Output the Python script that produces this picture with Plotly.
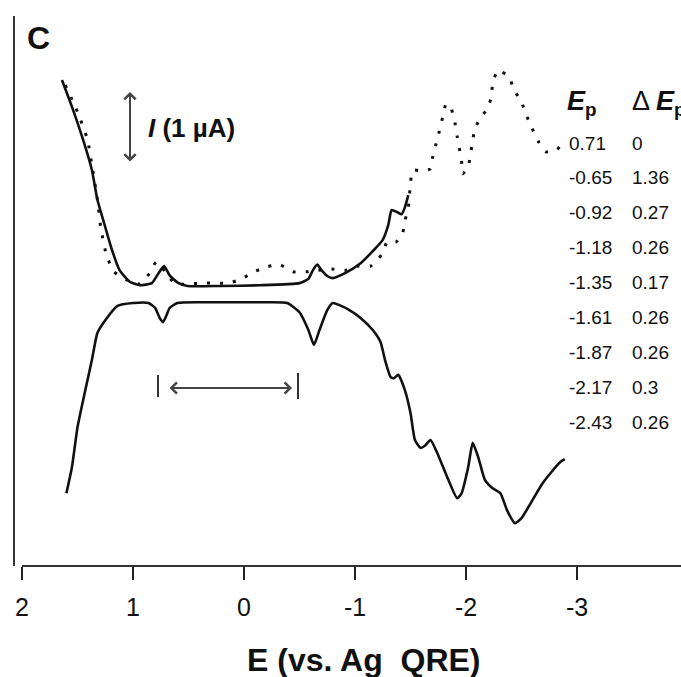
import plotly.graph_objects as go

# ---- data (E in V vs Ag QRE, I in µA, arbitrary offset) ----
E_dot = [1.61, 1.50, 1.41, 1.37, 1.32, 1.29, 1.24, 1.17, 1.05, 0.94,
         0.85, 0.79, 0.71, 0.62, 0.49, 0.37, 0.24, 0.14, 0.02, -0.09,
         -0.21, -0.32, -0.44, -0.56, -0.67, -0.79, -0.91, -1.03, -1.14, -1.24,
         -1.29, -1.37, -1.43, -1.45, -1.48, -1.50, -1.52, -1.61, -1.68, -1.70,
         -1.73, -1.76, -1.79, -1.82, -1.86, -1.87, -1.90, -1.92, -1.94, -1.96,
         -1.97, -2.02, -2.04, -2.06, -2.08, -2.14, -2.20, -2.23, -2.24, -2.29,
         -2.39, -2.43, -2.50, -2.54, -2.59, -2.65, -2.72, -2.82, -2.87]
I_dot = [6.76, 6.38, 5.99, 5.63, 5.14, 4.75, 4.37, 4.13, 4.01, 3.96,
         4.11, 4.27, 4.13, 3.96, 3.96, 3.97, 3.97, 3.97, 4.03, 4.13,
         4.20, 4.23, 4.13, 4.13, 4.15, 4.17, 4.15, 4.21, 4.21, 4.37,
         4.55, 4.55, 4.68, 4.85, 5.03, 5.38, 5.56, 5.55, 5.58, 5.75,
         5.93, 6.11, 6.31, 6.49, 6.46, 6.42, 6.23, 6.04, 5.87, 5.69,
         5.51, 5.61, 5.79, 5.97, 6.15, 6.32, 6.44, 6.62, 6.79, 6.97,
         6.87, 6.70, 6.52, 6.35, 6.17, 5.97, 5.82, 5.85, 5.96]

E_ox = [1.64, 1.54, 1.45, 1.37, 1.32, 1.25, 1.19, 1.12, 1.03, 0.94,
        0.83, 0.77, 0.72, 0.67, 0.59, 0.51, 0.22, -0.14, -0.50, -0.58,
        -0.62, -0.66, -0.70, -0.75, -0.80, -0.91, -1.05, -1.16, -1.25, -1.30,
        -1.33, -1.38, -1.42, -1.45, -1.48]
I_ox = [6.83, 6.41, 5.99, 5.56, 5.14, 4.76, 4.44, 4.15, 3.99, 3.94,
        3.97, 4.11, 4.21, 4.08, 3.97, 3.93, 3.93, 3.94, 3.97, 4.03,
        4.15, 4.23, 4.15, 4.07, 4.04, 4.11, 4.25, 4.42, 4.58, 4.79,
        5.00, 4.97, 4.94, 5.04, 5.21]

E_red = [1.60, 1.55, 1.50, 1.43, 1.37, 1.32, 1.23, 1.14, 1.00, 0.86,
         0.80, 0.76, 0.73, 0.70, 0.67, 0.60, 0.40, 0.10, -0.21, -0.39,
         -0.50, -0.58, -0.63, -0.68, -0.75, -0.80, -0.86, -0.95, -1.05, -1.16,
         -1.23, -1.27, -1.32, -1.35, -1.39, -1.45, -1.50, -1.54, -1.59, -1.63,
         -1.68, -1.74, -1.83, -1.92, -1.96, -2.02, -2.06, -2.11, -2.17, -2.24,
         -2.31, -2.37, -2.44, -2.50, -2.59, -2.69, -2.77, -2.85, -2.89]
I_red = [1.01, 1.38, 1.94, 2.46, 2.89, 3.27, 3.49, 3.65, 3.69, 3.69,
         3.62, 3.48, 3.42, 3.51, 3.62, 3.69, 3.70, 3.70, 3.70, 3.69,
         3.56, 3.31, 3.10, 3.31, 3.59, 3.69, 3.66, 3.59, 3.48, 3.31,
         3.14, 2.89, 2.65, 2.63, 2.68, 2.46, 2.14, 1.76, 1.65, 1.68,
         1.76, 1.58, 1.24, 0.94, 1.01, 1.38, 1.72, 1.52, 1.20, 1.08,
         1.01, 0.77, 0.59, 0.66, 0.89, 1.15, 1.31, 1.45, 1.49]

Ep_labels = ["0.71", "-0.65", "-0.92", "-1.18", "-1.35", "-1.61", "-1.87", "-2.17", "-2.43"]
dEp_labels = ["0", "1.36", "0.27", "0.26", "0.17", "0.26", "0.26", "0.3", "0.26"]

tick_vals = [2, 1, 0, -1, -2, -3]
tick_text = ["2", "1", "0", "-1", "-2", "-3"]

# ---- layout geometry ----
W, H = 681, 677
L, R, T, B = 22, 0, 0, 112
PW, PH = W - L - R, H - T - B
X_RANGE = [2, 2 - PW / 111.0]
Y_RANGE = [0, PH / 71.0]
FONT = "Liberation Sans, Arial, Helvetica, sans-serif"


def px(x):
    return (x - L) / PW


def py(y):
    return (H - B - y) / PH


fig = go.Figure()
fig.add_trace(go.Scatter(x=E_dot, y=I_dot, mode="lines",
                         line=dict(color="#111", width=3, dash="3px,10px",
                                   shape="spline", smoothing=0.5),
                         hoverinfo="skip", showlegend=False))
fig.add_trace(go.Scatter(x=E_ox, y=I_ox, mode="lines",
                         line=dict(color="#111", width=2.6, shape="spline", smoothing=0.5),
                         hoverinfo="skip", showlegend=False))
fig.add_trace(go.Scatter(x=E_red, y=I_red, mode="lines",
                         line=dict(color="#111", width=2.6, shape="spline", smoothing=0.5),
                         hoverinfo="skip", showlegend=False))

ann = []
# panel letter
ann.append(dict(text="<b>C</b>", x=px(25), y=py(38), xanchor="left", yanchor="middle",
                font=dict(size=32, color="#111", family=FONT)))
# scale label
ann.append(dict(text="<b><i>I</i> (1 \u00b5A)</b>", x=px(146), y=py(128), xanchor="left",
                yanchor="middle", font=dict(size=26, color="#111", family=FONT)))
# vertical double arrow
ann.append(dict(text="", x=px(130), y=py(92), ax=0, ay=71, showarrow=True,
                arrowside="end+start", arrowhead=4, startarrowhead=4, arrowsize=1.1,
                startarrowsize=1.1, arrowwidth=2, arrowcolor="#444"))
# horizontal double arrow
ann.append(dict(text="", x=px(292), y=py(388), ax=-124, ay=0, showarrow=True,
                arrowside="end+start", arrowhead=4, startarrowhead=4, arrowsize=1.1,
                startarrowsize=1.1, arrowwidth=2, arrowcolor="#444"))
# table header
ann.append(dict(text="<b><i>E</i></b><b><sub>p</sub></b>", x=px(565), y=py(103),
                xanchor="left", yanchor="middle", font=dict(size=27, color="#111", family=FONT)))
ann.append(dict(text="\u0394 <b><i>E</i></b><b><sub>p</sub></b>", x=px(630), y=py(103),
                xanchor="left", yanchor="middle", font=dict(size=27, color="#111", family=FONT)))
for i, (a, b) in enumerate(zip(Ep_labels, dEp_labels)):
    yy = 143 + 34.9 * i
    ann.append(dict(text=a, x=px(567), y=py(yy), xanchor="left", yanchor="middle",
                    font=dict(size=19, color="#111", family=FONT)))
    ann.append(dict(text=b, x=px(630), y=py(yy), xanchor="left", yanchor="middle",
                    font=dict(size=19, color="#111", family=FONT)))
# axis title
ann.append(dict(text="<b>E (vs. Ag\u00a0\u00a0QRE)</b>", x=px(364), y=py(660),
                xanchor="center", yanchor="middle", font=dict(size=32, color="#111", family=FONT)))
for a in ann:
    a.setdefault("showarrow", False)
    a["xref"] = "paper"
    a["yref"] = "paper"

shapes = [
    dict(type="line", xref="paper", yref="paper", x0=px(14), x1=px(14), y0=py(566), y1=py(16),
         line=dict(color="#333", width=2)),
    dict(type="line", xref="paper", yref="paper", x0=px(158), x1=px(158), y0=py(375), y1=py(397),
         line=dict(color="#333", width=2)),
    dict(type="line", xref="paper", yref="paper", x0=px(298), x1=px(298), y0=py(373), y1=py(399),
         line=dict(color="#333", width=2)),
]

fig.update_layout(
    width=W, height=H, margin=dict(l=L, r=R, t=T, b=B),
    paper_bgcolor="white", plot_bgcolor="white",
    annotations=ann, shapes=shapes,
    xaxis=dict(range=X_RANGE, tickvals=tick_vals, ticktext=tick_text, ticks="outside",
               ticklen=13, tickwidth=2, tickcolor="#222", showline=True, linewidth=2,
               linecolor="#333", showgrid=False, zeroline=False, ticklabelstandoff=6,
               tickfont=dict(size=25, color="#111", family=FONT)),
    yaxis=dict(range=Y_RANGE, visible=False, showgrid=False, zeroline=False),
)

fig.write_html("out.html")
